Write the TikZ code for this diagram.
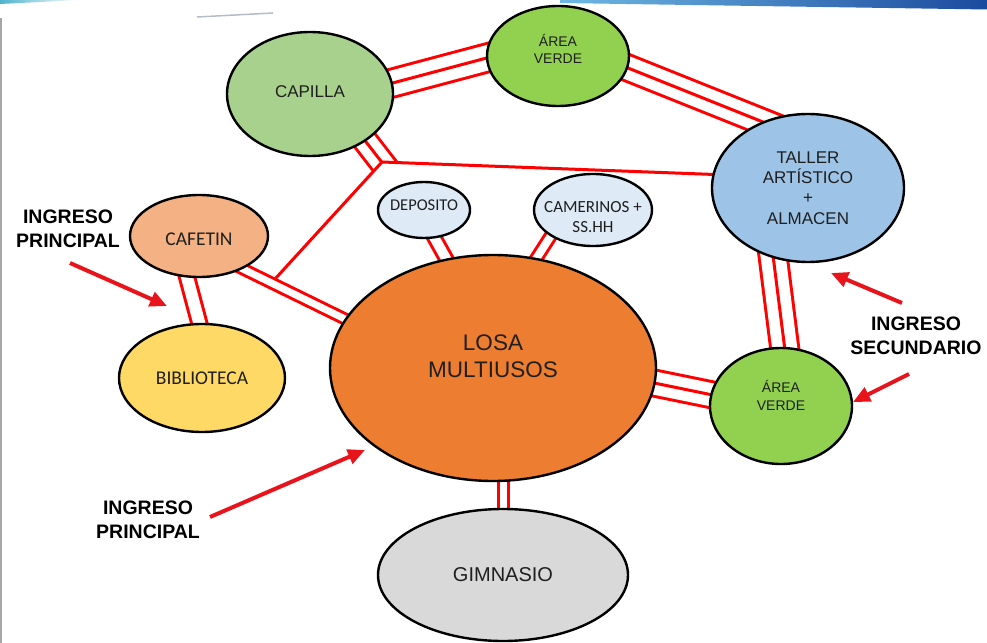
\documentclass[tikz,border=0pt]{standalone}
\usepackage{fontspec}
\setmainfont{Liberation Sans}
\newfontfamily\calib{Carlito}
\usetikzlibrary{shapes.geometric,arrows.meta,calc,backgrounds}
\definecolor{lred}{HTML}{FF0000}
\definecolor{arred}{HTML}{E8131B}
\definecolor{txtgray}{HTML}{1F1F1F}
\definecolor{capg}{HTML}{A9D18E}
\definecolor{vgreen}{HTML}{92D050}
\definecolor{talb}{HTML}{9DC3E6}
\definecolor{lblue}{HTML}{DEEBF7}
\definecolor{cafo}{HTML}{F4B183}
\definecolor{biby}{HTML}{FFD966}
\definecolor{losao}{HTML}{ED7D31}
\definecolor{gimg}{HTML}{D9D9D9}
\definecolor{bandl}{HTML}{6FB8E3}
\definecolor{bandm}{HTML}{1F58B4}
\definecolor{bandd}{HTML}{1A4A9E}
\definecolor{tealc}{HTML}{4FB3CF}
\definecolor{faint}{HTML}{B4BCC8}
\newcommand\fsz[2]{\fontsize{#1bp}{#2bp}\selectfont}
\tikzset{
  room/.style={ellipse, draw=black, line width=2.4bp, inner sep=0pt},
  lbl/.style={text=txtgray, align=center, inner sep=0pt},
  ingr/.style={text=black, align=center, inner sep=0pt, font=\fsz{19.5}{24.5}\bfseries},
  tri/.style 2 args={draw=lred, line width=#1,
     postaction={draw=white, line width=#2},
     postaction={draw=lred, line width=3bp}},
  dbl/.style 2 args={draw=lred, line width=#1,
     postaction={draw=white, line width=#2}},
  single/.style={draw=lred, line width=3bp},
  arr/.style={draw=arred, line width=4bp, -{Triangle[length=17bp,width=15bp]}}
}
\begin{document}
\begin{tikzpicture}[x=1bp, y=-1bp]
\useasboundingbox (0,0) rectangle (987,643);

% rooms
\node[room, fill=capg,  minimum width=166bp, minimum height=124bp] (cap)  at (310,94)  {};
\node[room, fill=vgreen,minimum width=142bp, minimum height=100bp] (av1)  at (558,56)  {};
\node[room, fill=talb,  minimum width=192bp, minimum height=148bp] (tal)  at (808,188) {};
\node[room, fill=lblue, minimum width=92bp,  minimum height=56bp]  (dep)  at (424,210) {};
\node[room, fill=lblue, minimum width=118bp, minimum height=72bp]  (cam)  at (593,210) {};
\node[room, fill=cafo,  minimum width=138bp, minimum height=82bp]  (caf)  at (199,236) {};
\node[room, fill=biby,  minimum width=166bp, minimum height=108bp] (bib)  at (202,378) {};
\node[room, fill=losao, minimum width=326bp, minimum height=226bp] (losa) at (493,368) {};
\node[room, fill=vgreen,minimum width=142bp, minimum height=116bp] (av2)  at (781,406) {};
\node[room, fill=gimg,  minimum width=250bp, minimum height=132bp] (gim)  at (503,575) {};

% room texts
\node[lbl, font=\fsz{17}{20}]   (tcap)  at ($(cap)+(0,-2)$)  {CAPILLA};
\node[lbl, font=\fsz{14}{17.5}] (tav1)  at ($(av1)+(0,-7)$)  {ÁREA\\VERDE};
\node[lbl, font=\fsz{17}{20.4}] (ttal)  at (tal)             {TALLER\\ARTÍSTICO\\+\\ALMACEN};
\node[lbl, font=\calib\fsz{16.5}{20}] (tdep) at ($(dep)+(0,-5)$) {DEPOSITO};
\node[lbl, font=\calib\fsz{17}{20.5}] (tcam) at ($(cam)+(0,7)$)  {CAMERINOS +\\SS.HH};
\node[lbl, font=\calib\fsz{19.5}{23}] (tcaf) at ($(caf)+(0,3)$)  {CAFETIN};
\node[lbl, font=\calib\fsz{19.5}{23}] (tbib) at (bib)            {BIBLIOTECA};
\node[lbl, font=\fsz{22.5}{27}] (tlosa) at ($(losa)+(0,-12)$) {LOSA\\MULTIUSOS};
\node[lbl, font=\fsz{14}{18}]   (tav2)  at ($(av2)+(0,-11)$) {ÁREA\\VERDE};
\node[lbl, font=\fsz{20}{24}]   (tgim)  at (gim)             {GIMNASIO};

% entrance labels
\node[ingr] (ip1) at (68,229)  {INGRESO\\PRINCIPAL};
\node[ingr] (ip2) at (148,520) {INGRESO\\PRINCIPAL};
\node[ingr] (isc) at (916,336) {INGRESO\\SECUNDARIO};

% junction points
\coordinate (J) at (382,162);
\coordinate (D) at (275,279);

% arrows
\coordinate (a1s) at (70,263);  \coordinate (a1e) at (167,306);
\coordinate (a2s) at (210,517); \coordinate (a2e) at (365,450);
\coordinate (a3s) at (902,303); \coordinate (a3e) at (831,273);
\coordinate (a4s) at (909,374); \coordinate (a4e) at (853,402);
\draw[arr] (a1s) -- (a1e);
\draw[arr] (a2s) -- (a2e);
\draw[arr] (a3s) -- (a3e);
\draw[arr] (a4s) -- (a4e);

\begin{pgfonlayer}{background}
  \fill[white] (0,0) rectangle (987,643);
  % page decoration
  \shade[left color=tealc, right color=white] (0,0) -- (80,0) -- (0,4) -- cycle;
  \shade[left color=bandl, middle color=bandm, right color=bandd]
     (560,0) -- (987,0) -- (987,9.5) -- (560,3) -- cycle;
  \draw[gray!70, line width=1.5bp] (1,18) -- (1,643);
  \draw[faint, line width=1.5bp] (197,17) -- (273,13);

  % connectors
  \draw[tri={31bp}{25bp}] ($(cap)+(0,11)$) -- ($(av1)+(0,-17)$);
  \draw[tri={29bp}{23bp}] ($(av1)+(0,-16)$) -- ($(tal)+(0,-48)$);
  \draw[tri={31bp}{25bp}] ($(tal)+(-43.5,0)$) -- ($(av2)+(11,0)$);
  \draw[tri={29bp}{23bp}] ($(losa)+(0,-18)$) -- ($(av2)+(0,3)$);
  \draw[dbl={13bp}{7bp}]  ($(caf)+(0,11.5)$) -- ($(losa)+(0,23.5)$);
  \draw[dbl={18bp}{12bp}] ($(caf)+(-23,0)$) -- ($(bib)+(12,0)$);
  \draw[dbl={16bp}{10bp}] ($(dep)+(-5,0)$) -- ($(losa)+(14,0)$);
  \draw[dbl={14bp}{8bp}]  ($(cam)+(-25.6,0)$) -- ($(losa)+(-27,0)$);
  \draw[dbl={13bp}{7bp}]  ($(losa)+(10,0)$) -- (gim);
  \begin{scope}
    \clip (J) -- ($(tal)+(0,-10)$) -- (808,0) -- (150,0) -- (D) -- cycle;
    \draw[tri={27bp}{21bp}] ($(cap)+(29,13)$) -- ($(J)+(12,16)$);
  \end{scope}
  \draw[single] (J) -- ($(tal)+(0,-10)$);
  \draw[single] (J) -- (D);
\end{pgfonlayer}
\end{tikzpicture}
\end{document}
